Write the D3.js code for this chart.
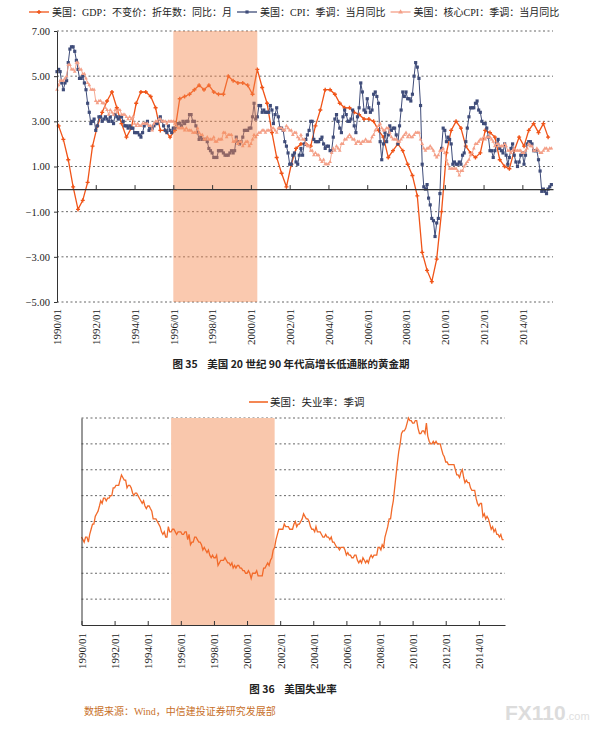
<!DOCTYPE html>
<html>
<head>
<meta charset="utf-8">
<script src="https://cdn.jsdelivr.net/npm/d3@7"></script>
<style>
  body { margin: 0; background: #fff; }
  svg { display: block; }
</style>
</head>
<body>
<svg width="598" height="744"></svg>
<script>
// 数据：1990/01 起
const gdpQuarterly = [
  2.8, 2.2, 1.3, 0.1, -0.9, -0.5, 0.3, 1.9, 2.8, 3.4, 3.9, 4.3,
  3.6, 2.9, 2.3, 2.7, 3.8, 4.3, 4.3, 4.1, 3.6, 2.6, 2.6, 2.3,
  2.6, 4.0, 4.1, 4.2, 4.4, 4.6, 4.4, 4.6, 4.3, 4.2, 4.2, 5.0,
  4.8, 4.7, 4.7, 4.6, 4.2, 5.3, 4.5, 3.8, 2.5, 1.4, 0.7, 0.1,
  1.1, 1.8, 2.0, 2.0, 1.9, 2.8, 3.5, 4.4, 4.4, 4.2, 3.8, 3.6,
  3.6, 3.4, 3.3, 3.1, 3.1, 3.0, 2.6, 2.3, 1.4, 1.7, 2.0, 1.7,
  1.1, 0.6, -0.3, -2.8, -3.6, -4.1, -3.1, -1.0, 1.6, 2.6, 3.0, 2.7,
  1.9, 1.6, 1.4, 1.6, 2.6, 2.5, 2.3, 1.3, 1.0, 0.9, 1.7, 2.3,
  1.9, 2.6, 2.9, 2.5, 2.9, 2.3
];

const cpiMonthly = [
  5.2, 5.3, 5.2, 4.7, 4.4, 4.7, 4.8, 5.6, 6.2, 6.3, 6.3, 6.1,
  5.7, 5.3, 4.9, 4.9, 5.0, 4.7, 4.4, 3.8, 3.4, 2.9, 3.0, 3.1,
  2.6, 2.8, 3.2, 3.2, 3.0, 3.1, 3.2, 3.1, 3.0, 3.2, 3.0, 2.9,
  3.3, 3.2, 3.1, 3.2, 3.2, 3.0, 2.8, 2.8, 2.7, 2.8, 2.7, 2.7,
  2.5, 2.5, 2.5, 2.4, 2.3, 2.5, 2.8, 2.9, 3.0, 2.6, 2.7, 2.7,
  2.8, 2.9, 2.9, 3.1, 3.2, 3.0, 2.8, 2.6, 2.5, 2.8, 2.6, 2.5,
  2.7, 2.7, 2.8, 2.9, 2.9, 2.8, 3.0, 2.9, 3.0, 3.0, 3.3, 3.3,
  3.0, 3.0, 2.8, 2.5, 2.2, 2.3, 2.2, 2.2, 2.2, 2.1, 1.8, 1.7,
  1.6, 1.4, 1.4, 1.4, 1.7, 1.7, 1.7, 1.6, 1.5, 1.5, 1.5, 1.6,
  1.7, 1.6, 1.7, 2.3, 2.1, 2.0, 2.1, 2.3, 2.6, 2.6, 2.6, 2.7,
  2.7, 3.2, 3.8, 3.1, 3.2, 3.7, 3.7, 3.4, 3.5, 3.4, 3.4, 3.4,
  3.7, 3.5, 2.9, 3.3, 3.6, 3.2, 2.7, 2.7, 2.6, 2.1, 1.9, 1.6,
  1.1, 1.1, 1.5, 1.6, 1.2, 1.1, 1.5, 1.8, 1.5, 2.0, 2.2, 2.4,
  2.6, 3.0, 3.0, 2.2, 2.1, 2.1, 2.1, 2.2, 2.3, 2.0, 1.8, 1.9,
  1.9, 1.7, 1.7, 2.3, 3.1, 3.3, 3.0, 2.7, 2.5, 3.2, 3.5, 3.3,
  3.0, 3.0, 3.1, 3.5, 2.8, 2.5, 3.2, 3.6, 4.7, 4.3, 3.5, 3.4,
  4.0, 3.6, 3.4, 3.5, 4.2, 4.3, 4.1, 3.8, 2.1, 1.3, 2.0, 2.5,
  2.1, 2.4, 2.8, 2.6, 2.7, 2.7, 2.4, 2.0, 2.8, 3.5, 4.3, 4.1,
  4.3, 4.0, 4.0, 3.9, 4.2, 5.0, 5.6, 5.4, 4.9, 3.7, 1.1, 0.1,
  0.0, 0.2, -0.4, -0.7, -1.3, -1.4, -2.1, -1.5, -1.3, -0.2, 1.8, 2.7,
  2.6, 2.1, 2.3, 2.2, 2.0, 1.1, 1.2, 1.1, 1.1, 1.2, 1.1, 1.5,
  1.6, 2.1, 2.7, 3.2, 3.6, 3.6, 3.6, 3.8, 3.9, 3.5, 3.4, 3.0,
  2.9, 2.9, 2.7, 2.3, 1.7, 1.7, 1.4, 1.7, 2.0, 2.2, 1.8, 1.7,
  1.6, 2.0, 1.5, 1.1, 1.4, 1.8, 2.0, 1.5, 1.2, 1.0, 1.2, 1.5,
  1.6, 1.1, 1.5, 2.0, 2.1, 2.1, 2.0, 1.7, 1.7, 1.7, 1.3, 0.8,
  -0.1, 0.0, -0.1, -0.2, 0.0, 0.1, 0.2
];

const coreCpiMonthly = [
  4.4, 4.6, 4.8, 4.8, 4.8, 4.9, 5.0, 5.5, 5.5, 5.3, 5.3, 5.2,
  5.6, 5.6, 5.3, 5.3, 5.1, 5.1, 4.9, 4.7, 4.6, 4.4, 4.4, 4.4,
  3.9, 3.8, 3.9, 3.9, 3.8, 3.8, 3.6, 3.5, 3.3, 3.5, 3.4, 3.3,
  3.5, 3.4, 3.5, 3.5, 3.3, 3.3, 3.3, 3.2, 3.1, 3.2, 3.1, 3.2,
  2.9, 2.8, 2.9, 2.8, 2.8, 2.9, 2.9, 2.9, 2.9, 2.8, 2.8, 2.6,
  2.9, 3.0, 3.0, 3.1, 3.1, 3.0, 3.0, 3.0, 2.9, 3.0, 3.0, 3.0,
  3.0, 2.9, 2.8, 2.7, 2.7, 2.7, 2.7, 2.6, 2.7, 2.6, 2.6, 2.6,
  2.5, 2.5, 2.5, 2.7, 2.5, 2.4, 2.4, 2.2, 2.2, 2.3, 2.2, 2.2,
  2.2, 2.3, 2.1, 2.1, 2.2, 2.2, 2.2, 2.5, 2.5, 2.3, 2.4, 2.4,
  2.4, 2.1, 2.1, 2.2, 2.0, 2.1, 2.1, 1.9, 2.0, 2.1, 2.1, 1.9,
  2.0, 2.2, 2.4, 2.3, 2.4, 2.5, 2.5, 2.6, 2.6, 2.5, 2.6, 2.6,
  2.6, 2.7, 2.7, 2.6, 2.5, 2.7, 2.7, 2.7, 2.6, 2.6, 2.8, 2.7,
  2.6, 2.6, 2.4, 2.5, 2.5, 2.3, 2.2, 2.4, 2.2, 2.2, 2.0, 1.9,
  1.9, 1.7, 1.7, 1.5, 1.6, 1.5, 1.5, 1.3, 1.2, 1.3, 1.1, 1.1,
  1.1, 1.2, 1.6, 1.8, 1.7, 1.9, 1.8, 1.7, 2.0, 2.0, 2.2, 2.2,
  2.3, 2.4, 2.3, 2.2, 2.2, 2.0, 2.1, 2.1, 2.0, 2.1, 2.1, 2.2,
  2.1, 2.1, 2.1, 2.3, 2.4, 2.6, 2.7, 2.8, 2.9, 2.7, 2.6, 2.6,
  2.7, 2.7, 2.5, 2.3, 2.2, 2.2, 2.2, 2.1, 2.1, 2.2, 2.3, 2.4,
  2.5, 2.3, 2.4, 2.3, 2.3, 2.4, 2.5, 2.5, 2.5, 2.2, 2.0, 1.8,
  1.7, 1.8, 1.8, 1.9, 1.8, 1.7, 1.5, 1.4, 1.5, 1.7, 1.7, 1.8,
  1.6, 1.3, 1.1, 0.9, 0.9, 0.9, 0.9, 0.9, 0.8, 0.6, 0.8, 0.8,
  1.0, 1.1, 1.2, 1.3, 1.5, 1.6, 1.8, 2.0, 2.0, 2.1, 2.2, 2.2,
  2.3, 2.2, 2.3, 2.3, 2.3, 2.2, 2.1, 1.9, 2.0, 2.0, 1.9, 1.9,
  1.9, 2.0, 1.9, 1.7, 1.7, 1.6, 1.7, 1.8, 1.7, 1.7, 1.7, 1.7,
  1.6, 1.6, 1.7, 1.8, 2.0, 1.9, 1.9, 1.7, 1.7, 1.8, 1.7, 1.6,
  1.6, 1.7, 1.8, 1.8, 1.7, 1.8, 1.8
];

const unemploymentMonthly = [
  5.4, 5.3, 5.2, 5.4, 5.4, 5.2, 5.5, 5.7, 5.9, 5.9, 6.2, 6.3,
  6.4, 6.6, 6.8, 6.7, 6.9, 6.9, 6.8, 6.9, 6.9, 7.0, 7.0, 7.3,
  7.3, 7.4, 7.4, 7.4, 7.6, 7.8, 7.7, 7.6, 7.6, 7.3, 7.4, 7.4,
  7.3, 7.1, 7.0, 7.1, 7.1, 7.0, 6.9, 6.8, 6.7, 6.8, 6.6, 6.5,
  6.6, 6.6, 6.5, 6.4, 6.1, 6.1, 6.1, 6.0, 5.9, 5.8, 5.6, 5.5,
  5.6, 5.4, 5.4, 5.8, 5.6, 5.6, 5.7, 5.7, 5.6, 5.5, 5.6, 5.6,
  5.6, 5.5, 5.5, 5.6, 5.6, 5.3, 5.5, 5.1, 5.2, 5.2, 5.4, 5.4,
  5.3, 5.2, 5.2, 5.1, 4.9, 5.0, 4.9, 4.8, 4.9, 4.7, 4.6, 4.7,
  4.6, 4.6, 4.7, 4.3, 4.4, 4.5, 4.5, 4.5, 4.6, 4.5, 4.4, 4.4,
  4.3, 4.4, 4.2, 4.3, 4.2, 4.3, 4.3, 4.2, 4.2, 4.1, 4.1, 4.0,
  4.0, 4.1, 4.0, 3.8, 4.0, 4.0, 4.0, 4.1, 3.9, 3.9, 3.9, 3.9,
  4.2, 4.2, 4.3, 4.4, 4.3, 4.5, 4.6, 4.9, 5.0, 5.3, 5.5, 5.7,
  5.7, 5.7, 5.7, 5.9, 5.8, 5.8, 5.8, 5.7, 5.7, 5.7, 5.9, 6.0,
  5.8, 5.9, 5.9, 6.0, 6.1, 6.3, 6.2, 6.1, 6.1, 6.0, 5.8, 5.7,
  5.7, 5.6, 5.8, 5.6, 5.6, 5.6, 5.5, 5.4, 5.4, 5.5, 5.4, 5.4,
  5.3, 5.4, 5.2, 5.2, 5.1, 5.0, 5.0, 4.9, 5.0, 5.0, 5.0, 4.9,
  4.7, 4.8, 4.7, 4.7, 4.6, 4.6, 4.7, 4.7, 4.5, 4.4, 4.5, 4.4,
  4.6, 4.5, 4.4, 4.5, 4.4, 4.6, 4.7, 4.6, 4.7, 4.7, 4.7, 5.0,
  5.0, 4.9, 5.1, 5.0, 5.4, 5.6, 5.8, 6.1, 6.1, 6.5, 6.8, 7.3,
  7.8, 8.3, 8.7, 9.0, 9.4, 9.5, 9.5, 9.6, 9.8, 10.0, 9.9, 9.9,
  9.8, 9.8, 9.9, 9.9, 9.6, 9.4, 9.4, 9.5, 9.5, 9.4, 9.8, 9.3,
  9.1, 9.0, 9.0, 9.1, 9.0, 9.1, 9.0, 9.0, 9.0, 8.8, 8.6, 8.5,
  8.3, 8.3, 8.2, 8.2, 8.2, 8.2, 8.2, 8.0, 7.8, 7.8, 7.7, 7.9,
  8.0, 7.7, 7.5, 7.6, 7.5, 7.5, 7.3, 7.2, 7.2, 7.2, 6.9, 6.7,
  6.6, 6.7, 6.7, 6.2, 6.3, 6.1, 6.2, 6.1, 5.9, 5.7, 5.8, 5.6,
  5.7, 5.5, 5.5, 5.4, 5.5, 5.3, 5.3
];

const tickYears = d3.range(1990, 2015, 2);
const topYTicks = [7, 5, 3, 1, -1, -3, -5];
const bottomGrid = [3, 4, 5, 6, 7, 8, 9, 10];
const topShade = ["1996/01", "2000/05"];
const bottomShade = ["1995/06", "2001/09"];
const topLegend = ["美国：GDP：不变价：折年数：同比：月", "美国：CPI：季调：当月同比", "美国：核心CPI：季调：当月同比"];
const bottomLegend = "美国：失业率：季调";

const colGdp = "#f05418";
const colCpi = "#3f4c79";
const colCore = "#f4a088";
const colUnemp = "#f26a2a";
const serif = "'Liberation Serif', 'Noto Sans CJK SC', serif";
const cjk = "'Noto Sans CJK SC', sans-serif";

const svg = d3.select("svg");
const parse = d3.timeParse("%Y/%m");
const fmt = d3.timeFormat("%Y/%m");

const month = (i) => new Date(1990, i, 1);
const gdp = gdpQuarterly.map((v, q) => ({ date: new Date(1990, 3 * q + 1, 1), value: v }));
const cpi = cpiMonthly.map((v, i) => ({ date: month(i), value: v }));
const core = coreCpiMonthly.map((v, i) => ({ date: month(i), value: v }));
const unemp = unemploymentMonthly.map((v, i) => ({ date: month(i), value: v }));
const tickDates = tickYears.map((y) => new Date(y, 0, 1));

// ---------- 图35 ----------
const xTop = d3.scaleTime().domain([parse("1990/01"), parse("2015/08")]).range([57, 553]);
const yTop = d3.scaleLinear().domain([-5, 7]).range([302, 31]);

svg.append("g")
  .selectAll("line")
  .data(topYTicks)
  .join("line")
  .attr("x1", 57)
  .attr("x2", 553)
  .attr("y1", (d) => yTop(d))
  .attr("y2", (d) => yTop(d))
  .attr("stroke", "#555")
  .attr("stroke-width", 0.9)
  .attr("stroke-dasharray", "2,2.5");

const lineTop = d3.line().x((d) => xTop(d.date)).y((d) => yTop(d.value));

function series(data, color, width, symbolType, size) {
  const g = svg.append("g");
  g.append("path")
    .datum(data)
    .attr("d", lineTop)
    .attr("fill", "none")
    .attr("stroke", color)
    .attr("stroke-width", width);
  g.selectAll("path.m")
    .data(data)
    .join("path")
    .attr("class", "m")
    .attr("d", d3.symbol().type(symbolType).size(size))
    .attr("transform", (d) => `translate(${xTop(d.date)},${yTop(d.value)})`)
    .attr("fill", color);
}

series(gdp, colGdp, 1.3, d3.symbolCross, 9);
series(cpi, colCpi, 1, d3.symbolSquare, 10);
series(core, colCore, 0.9, d3.symbolTriangle, 6);

// 阴影
svg.append("rect")
  .attr("x", xTop(parse(topShade[0])))
  .attr("y", yTop(7))
  .attr("width", xTop(parse(topShade[1])) - xTop(parse(topShade[0])))
  .attr("height", yTop(-5) - yTop(7))
  .attr("fill", "#f3884e")
  .attr("opacity", 0.45);

// 零轴（刻度朝上）
const zeroAxis = svg.append("g")
  .attr("transform", `translate(0,${yTop(0)})`)
  .call(d3.axisBottom(xTop).tickValues(tickDates).tickSizeInner(-4).tickSizeOuter(0).tickFormat(""));
zeroAxis.select(".domain").attr("stroke", "#333").attr("stroke-width", 1.2);
zeroAxis.selectAll(".tick line").attr("stroke", "#333");

// y 轴
const yAxisTop = svg.append("g")
  .attr("transform", "translate(57,0)")
  .call(d3.axisLeft(yTop).tickValues(topYTicks).tickFormat(d3.format(".2f")).tickSizeInner(3).tickSizeOuter(0).tickPadding(4));
yAxisTop.select(".domain").attr("stroke", "#333");
yAxisTop.selectAll(".tick line").attr("stroke", "#333");
yAxisTop.selectAll("text").attr("font-family", serif).attr("font-size", 10.5).attr("fill", "#222");

// x 标签
const xLabTop = svg.append("g")
  .attr("transform", `translate(0,${yTop(-5)})`)
  .call(d3.axisBottom(xTop).tickValues(tickDates).tickFormat(fmt).tickSize(0));
xLabTop.select(".domain").remove();
xLabTop.selectAll("text")
  .attr("transform", "rotate(-90)")
  .attr("x", -7)
  .attr("y", 0)
  .attr("dy", "0.35em")
  .style("text-anchor", "end")
  .attr("font-family", serif)
  .attr("font-size", 11)
  .attr("fill", "#222");

// 图例
const legColors = [colGdp, colCpi, colCore];
const legSymbols = [d3.symbolCross, d3.symbolSquare, d3.symbolTriangle];
let cx = 29;
topLegend.forEach((label, i) => {
  const g = svg.append("g").attr("transform", `translate(${cx},12)`);
  g.append("line").attr("x1", 0).attr("x2", 20).attr("stroke", legColors[i]).attr("stroke-width", 1.3);
  g.append("path").attr("d", d3.symbol().type(legSymbols[i]).size(10)).attr("transform", "translate(10,0)").attr("fill", legColors[i]);
  const t = g.append("text")
    .attr("x", 23)
    .attr("y", 0)
    .attr("dy", "0.35em")
    .attr("font-family", serif)
    .attr("font-size", 10)
    .attr("fill", "#222")
    .text(label);
  cx += 23 + t.node().getComputedTextLength() + 5;
});

svg.append("text")
  .attr("x", 291)
  .attr("y", 368)
  .attr("text-anchor", "middle")
  .attr("font-family", cjk)
  .attr("font-weight", "bold")
  .attr("font-size", 10.5)
  .attr("fill", "#222")
  .attr("xml:space", "preserve")
  .text("图 35    美国 20 世纪 90 年代高增长低通胀的黄金期");

// ---------- 图36 ----------
const xBot = d3.scaleTime().domain([parse("1990/01"), parse("2015/08")]).range([81.5, 505]);
const yBot = d3.scaleLinear().domain([2, 10]).range([625, 418]);

svg.append("g")
  .selectAll("line")
  .data(bottomGrid)
  .join("line")
  .attr("x1", 81.5)
  .attr("x2", 505)
  .attr("y1", (d) => yBot(d))
  .attr("y2", (d) => yBot(d))
  .attr("stroke", "#555")
  .attr("stroke-width", 0.9)
  .attr("stroke-dasharray", "2,2.5");

svg.append("rect")
  .attr("x", xBot(parse(bottomShade[0])))
  .attr("y", yBot(10))
  .attr("width", xBot(parse(bottomShade[1])) - xBot(parse(bottomShade[0])))
  .attr("height", yBot(2) - yBot(10))
  .attr("fill", "#f9c7ac");

svg.append("path")
  .datum(unemp)
  .attr("d", d3.line().x((d) => xBot(d.date)).y((d) => yBot(d.value)))
  .attr("fill", "none")
  .attr("stroke", colUnemp)
  .attr("stroke-width", 1.3);

const xAxisBot = svg.append("g")
  .attr("transform", `translate(0,${yBot(2)})`)
  .call(d3.axisBottom(xBot).tickValues(tickDates).tickFormat(fmt).tickSizeInner(-4).tickSizeOuter(0));
xAxisBot.select(".domain").attr("stroke", "#333").attr("stroke-width", 1.2);
xAxisBot.selectAll(".tick line").attr("stroke", "#333");
xAxisBot.selectAll("text")
  .attr("transform", "rotate(-90)")
  .attr("x", -8)
  .attr("y", 0)
  .attr("dy", "0.35em")
  .style("text-anchor", "end")
  .attr("font-family", serif)
  .attr("font-size", 11)
  .attr("fill", "#222");

const yAxisBot = svg.append("g")
  .attr("transform", "translate(81.5,0)")
  .call(d3.axisLeft(yBot).tickValues([]).tickSizeOuter(0));
yAxisBot.select(".domain").attr("stroke", "#333");

const lb = svg.append("g").attr("transform", "translate(249,402)");
lb.append("line").attr("x1", 0).attr("x2", 19).attr("stroke", colUnemp).attr("stroke-width", 1.6);
lb.append("text")
  .attr("x", 21)
  .attr("dy", "0.35em")
  .attr("font-family", serif)
  .attr("font-size", 10.5)
  .attr("fill", "#222")
  .text(bottomLegend);

svg.append("text")
  .attr("x", 293)
  .attr("y", 693)
  .attr("text-anchor", "middle")
  .attr("font-family", cjk)
  .attr("font-weight", "bold")
  .attr("font-size", 10.5)
  .attr("fill", "#222")
  .attr("xml:space", "preserve")
  .text("图 36    美国失业率");

svg.append("text")
  .attr("x", 84)
  .attr("y", 715)
  .attr("font-family", serif)
  .attr("font-size", 10)
  .attr("fill", "#c8702a")
  .text("数据来源：Wind，中信建投证券研究发展部");

// 水印
const wm = svg.append("text")
  .attr("x", 505)
  .attr("y", 720)
  .attr("font-family", "'Liberation Sans', sans-serif")
  .attr("fill", "#dcdcdc");
wm.append("tspan").attr("font-size", 21).attr("font-weight", "bold").text("FX110");
wm.append("tspan").attr("font-size", 11).attr("fill", "#e0e0e0").text(".com");
</script>
</body>
</html>
